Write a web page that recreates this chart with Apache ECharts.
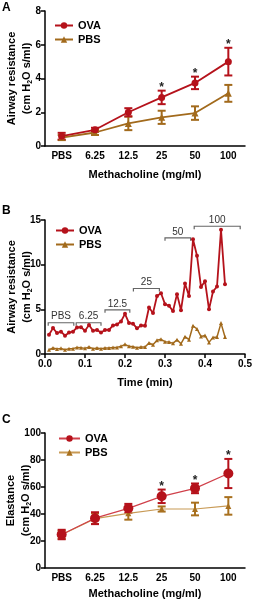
<!DOCTYPE html>
<html>
<head>
<meta charset="utf-8">
<style>
  html, body { margin: 0; padding: 0; background: #fff; }
  #chart { width: 254px; height: 600px; }
</style>
<script src="https://cdn.jsdelivr.net/npm/echarts@6/dist/echarts.min.js"></script>
</head>
<body>
<div id="chart"></div>
<script>
// panel A / C categories
const doses = ['PBS', '6.25', '12.5', '25', '50', '100']

// A: airway resistance (mean, sem)
const aOvaMean = [0.58, 0.96, 2.0, 2.88, 3.74, 5.0]
const aOvaSem = [0.2, 0.12, 0.24, 0.4, 0.37, 0.82]
const aPbsMean = [0.5, 0.8, 1.34, 1.7, 1.95, 3.12]
const aPbsSem = [0.15, 0.15, 0.4, 0.39, 0.4, 0.5]
const aSig = [0, 0, 0, 1, 1, 1]

// B: time course
const bTime = [0.01, 0.02, 0.03, 0.04, 0.05, 0.06, 0.07, 0.08, 0.09, 0.10,
  0.11, 0.12, 0.13, 0.14, 0.15, 0.16, 0.17, 0.18, 0.19, 0.20,
  0.21, 0.22, 0.23, 0.24, 0.25, 0.26, 0.27, 0.28, 0.29, 0.30,
  0.31, 0.32, 0.33, 0.34, 0.35, 0.36, 0.37, 0.38, 0.39, 0.40,
  0.41, 0.42, 0.43, 0.44, 0.45]
const bOva = [2.16, 2.9, 2.35, 2.5, 2.05, 2.4, 2.5, 2.98, 3.0, 2.6,
  3.24, 2.6, 2.7, 2.4, 2.7, 2.7, 3.2, 3.3, 3.65, 4.5,
  3.46, 3.4, 2.87, 3.2, 3.16, 5.2, 4.58, 6.5, 6.8, 5.58,
  5.4, 4.8, 6.7, 4.9, 7.9, 6.5, 12.84, 11.0, 7.5, 8.15,
  5.0, 7.0, 7.55, 13.9, 7.8]
const bPbs = [0.48, 0.67, 0.56, 0.63, 0.48, 0.6, 0.6, 0.74, 0.7, 0.63,
  0.78, 0.6, 0.67, 0.6, 0.67, 0.67, 0.74, 0.74, 0.86, 1.08,
  0.86, 0.82, 0.7, 0.78, 0.78, 1.23, 1.04, 1.53, 1.64, 1.38,
  1.34, 1.19, 1.6, 1.15, 1.94, 1.6, 3.16, 2.8, 1.97, 2.08,
  1.3, 1.86, 1.9, 3.46, 1.9]
// dose brackets over the trace
const bDoseLabels = ['PBS', '6.25', '12.5', '25', '50', '100']
const bDoseStart = [0.008, 0.078, 0.15, 0.221, 0.3, 0.373]
const bDoseEnd = [0.072, 0.14, 0.212, 0.286, 0.364, 0.488]
const bDoseLevel = [3.5, 3.5, 4.95, 7.33, 13.0, 14.3]

// C: elastance (mean, sem)
const cOvaMean = [24.8, 36.9, 44.2, 53.1, 59.0, 70.0]
const cOvaSem = [3.5, 4.4, 3.3, 5.0, 3.6, 10.8]
const cPbsMean = [24.6, 36.6, 40.5, 43.7, 43.7, 46.0]
const cPbsSem = [3.0, 4.0, 4.7, 1.9, 4.7, 6.5]
const cSig = [0, 0, 0, 1, 1, 1]

const FONT = '"Liberation Sans", Arial, sans-serif'
const RED = '#b5121b'
const BROWN = '#a26a1c'

const chart = echarts.init(document.getElementById('chart'))

const errData = (mean, sem) => mean.map((m, i) => [i, m - sem[i], m + sem[i]])
const sigData = (mean, sem, sig) => mean.map((m, i) => [i, m + sem[i], sig[i]]).filter(d => d[2])

function errorBars(color, width, cap) {
    return function (params, api) {
        const x = api.value(0)
        const hi = api.coord([x, api.value(2)])
        const lo = api.coord([x, api.value(1)])
        const st = {stroke: color, lineWidth: width}
        return {type: 'group', children: [
            {type: 'line', shape: {x1: hi[0], y1: hi[1], x2: lo[0], y2: lo[1]}, style: st},
            {type: 'line', shape: {x1: hi[0] - cap, y1: hi[1], x2: hi[0] + cap, y2: hi[1]}, style: st},
            {type: 'line', shape: {x1: lo[0] - cap, y1: lo[1], x2: lo[0] + cap, y2: lo[1]}, style: st}
        ]}
    }
}

function stars(params, api) {
    const p = api.coord([api.value(0), api.value(1)])
    return {type: 'text', x: p[0], y: p[1] - 3, style: {
        text: '*', fontSize: 12, fontWeight: 'bold', fontFamily: FONT,
        fill: '#222', align: 'center', verticalAlign: 'middle'}}
}

function brackets(params, api) {
    const a = api.coord([api.value(0), api.value(2)])
    const b = api.coord([api.value(1), api.value(2)])
    const st = {stroke: '#666', lineWidth: 1.2, fill: null}
    return {type: 'group', children: [
        {type: 'polyline', shape: {points: [[a[0], a[1] + 3], a, b, [b[0], b[1] + 3]]}, style: st},
        {type: 'text', x: (a[0] + b[0]) / 2, y: a[1] - 1, style: {
            text: bDoseLabels[params.dataIndex], fontSize: 10, fontFamily: FONT,
            fill: '#333', align: 'center', verticalAlign: 'bottom'}}
    ]}
}

const axisLine = {lineStyle: {color: '#000', width: 1.5}}
const axisTick = {length: 4, lineStyle: {color: '#000', width: 1.5}}
const tickLabel = {color: '#000', fontSize: 10, fontWeight: 'bold', fontFamily: FONT}
const nameStyle = {
    color: '#000', fontSize: 11, fontWeight: 'bold', fontFamily: FONT, lineHeight: 15,
    rich: {
        a: {fontSize: 11, fontWeight: 'bold', fontFamily: FONT, lineHeight: 15, color: '#000'},
        s: {fontSize: 7, fontWeight: 'bold', fontFamily: FONT, lineHeight: 8, verticalAlign: 'bottom', color: '#000'}
    }
}
const resName = '{a|Airway resistance}\n{a|(cm H}{s|2}{a|O s/ml)}'
const elaName = '{a|Elastance}\n{a|(cm H}{s|2}{a|O s/ml)}'

function catAxis(grid, gap) {
    return {
        type: 'category', gridIndex: grid, data: doses, boundaryGap: true,
        name: 'Methacholine (mg/ml)', nameLocation: 'middle', nameGap: gap, nameMoveOverlap: false,
        nameTextStyle: nameStyle,
        axisLine, axisTick: Object.assign({alignWithLabel: true}, axisTick),
        axisLabel: Object.assign({margin: 5, interval: 0}, tickLabel), splitLine: {show: false}
    }
}
function valAxis(grid, max, step, name, gap) {
    return {
        type: 'value', gridIndex: grid, min: 0, max: max, interval: step,
        name: name, nameLocation: 'middle', nameGap: gap, nameMoveOverlap: false, nameTextStyle: nameStyle,
        axisLine: Object.assign({show: true}, axisLine), axisTick: Object.assign({show: true}, axisTick),
        axisLabel: Object.assign({margin: 4}, tickLabel), splitLine: {show: false}
    }
}

const legendBase = {
    orient: 'vertical', itemWidth: 18, itemHeight: 8, itemGap: 3,
    textStyle: {color: '#000', fontSize: 11, fontWeight: 'bold', fontFamily: FONT},
    formatter: n => n.split('#')[0], selectedMode: false
}

const option = {
    animation: false,
    backgroundColor: '#fff',
    graphic: [
        {type: 'text', left: 2, top: 2, style: {text: 'A', fontSize: 12, fontWeight: 'bold', fontFamily: FONT, fill: '#000'}},
        {type: 'text', left: 2, top: 205, style: {text: 'B', fontSize: 12, fontWeight: 'bold', fontFamily: FONT, fill: '#000'}},
        {type: 'text', left: 2, top: 414, style: {text: 'C', fontSize: 12, fontWeight: 'bold', fontFamily: FONT, fill: '#000'}}
    ],
    legend: [
        Object.assign({data: ['OVA', 'PBS'], left: 49, top: 15}, legendBase),
        Object.assign({data: ['OVA#b', 'PBS#b'], left: 50, top: 220}, legendBase),
        Object.assign({data: ['OVA#c', 'PBS#c'], left: 53, top: 428}, legendBase, {itemWidth: 21})
    ],
    grid: [
        {left: 45, top: 11, width: 200, height: 135, outerBoundsMode: 'none', containLabel: false},
        {left: 45, top: 220, width: 200, height: 134, outerBoundsMode: 'none', containLabel: false},
        {left: 45, top: 433, width: 200, height: 135, outerBoundsMode: 'none', containLabel: false}
    ],
    xAxis: [
        catAxis(0, 21),
        {
            type: 'value', gridIndex: 1, min: 0, max: 0.5, interval: 0.1,
            name: 'Time (min)', nameLocation: 'middle', nameGap: 21, nameMoveOverlap: false, nameTextStyle: nameStyle,
            axisLine, axisTick, axisLabel: Object.assign({margin: 5, formatter: v => v.toFixed(1)}, tickLabel),
            splitLine: {show: false}
        },
        catAxis(2, 18)
    ],
    yAxis: [
        valAxis(0, 8, 2, resName, 11),
        valAxis(1, 15, 5, resName, 11),
        valAxis(2, 100, 20, elaName, 12)
    ],
    series: [
        // A
        {type: 'custom', xAxisIndex: 0, yAxisIndex: 0, data: errData(aPbsMean, aPbsSem), renderItem: errorBars(BROWN, 2, 4), z: 2},
        {type: 'custom', xAxisIndex: 0, yAxisIndex: 0, data: errData(aOvaMean, aOvaSem), renderItem: errorBars(RED, 2, 4), z: 2},
        {name: 'PBS', type: 'line', xAxisIndex: 0, yAxisIndex: 0, data: aPbsMean, symbol: 'triangle', symbolSize: 7,
            lineStyle: {color: BROWN, width: 1.8}, itemStyle: {color: BROWN}, z: 3},
        {name: 'OVA', type: 'line', xAxisIndex: 0, yAxisIndex: 0, data: aOvaMean, symbol: 'circle', symbolSize: 7,
            lineStyle: {color: RED, width: 1.8}, itemStyle: {color: RED}, z: 4},
        {type: 'custom', xAxisIndex: 0, yAxisIndex: 0, data: sigData(aOvaMean, aOvaSem, aSig), renderItem: stars, z: 5},
        // B
        {name: 'PBS#b', type: 'line', xAxisIndex: 1, yAxisIndex: 1, data: bTime.map((t, i) => [t, bPbs[i]]),
            symbol: 'triangle', symbolSize: 4, lineStyle: {color: BROWN, width: 1.5}, itemStyle: {color: BROWN}},
        {name: 'OVA#b', type: 'line', xAxisIndex: 1, yAxisIndex: 1, data: bTime.map((t, i) => [t, bOva[i]]),
            symbol: 'circle', symbolSize: 4, lineStyle: {color: RED, width: 1.8}, itemStyle: {color: RED}},
        {type: 'custom', xAxisIndex: 1, yAxisIndex: 1, renderItem: brackets,
            data: bDoseLabels.map((l, i) => [bDoseStart[i], bDoseEnd[i], bDoseLevel[i]])},
        // C
        {type: 'custom', xAxisIndex: 2, yAxisIndex: 2, data: errData(cPbsMean, cPbsSem), renderItem: errorBars('#a8701e', 2, 4), z: 2},
        {type: 'custom', xAxisIndex: 2, yAxisIndex: 2, data: errData(cOvaMean, cOvaSem), renderItem: errorBars(RED, 2, 4), z: 2},
        {name: 'PBS#c', type: 'line', xAxisIndex: 2, yAxisIndex: 2, data: cPbsMean, symbol: 'triangle', symbolSize: 6,
            lineStyle: {color: '#c89a55', width: 1.2}, itemStyle: {color: '#a8701e'}, z: 3},
        {name: 'OVA#c', type: 'line', xAxisIndex: 2, yAxisIndex: 2, data: cOvaMean, symbol: 'circle', symbolSize: 10,
            lineStyle: {color: '#d0404a', width: 1.2}, itemStyle: {color: RED}, z: 4},
        {type: 'custom', xAxisIndex: 2, yAxisIndex: 2, data: sigData(cOvaMean, cOvaSem, cSig), renderItem: stars, z: 5}
    ]
}

chart.setOption(option)
</script>
</body>
</html>
